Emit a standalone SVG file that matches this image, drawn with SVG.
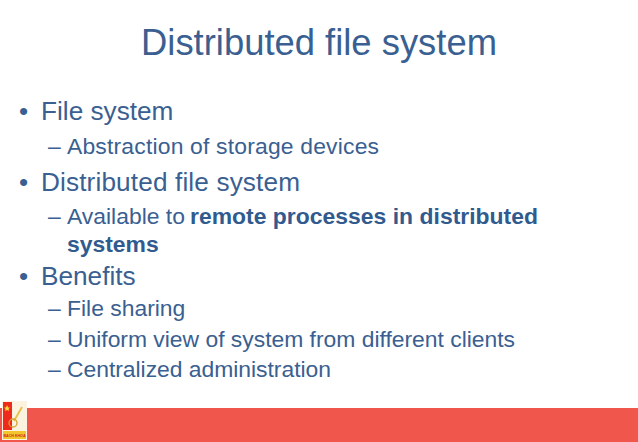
<svg xmlns="http://www.w3.org/2000/svg" width="638" height="442" viewBox="0 0 638 442">
<style>
text{font-family:"Liberation Sans",Arial,sans-serif;fill:#3a6091}
.t{font-size:36.4px}
.l1{font-size:26.2px}
.l2{font-size:22.9px}
.b{font-weight:bold;fill:#315a8e}
.k{font-weight:bold;font-size:3.6px;fill:#d32a1c}
</style>
<rect width="638" height="442" fill="#fff"/>
<rect x="0" y="408" width="638" height="34" fill="#f0564b"/>
<g id="logo">
<rect x="2" y="401" width="25" height="39" fill="#fbf3df"/>
<rect x="3" y="402" width="9" height="28" fill="#ee2a1c"/>
<polygon points="7,405 8,407.500 10,407.500 8.500,409 9,411 7,410 5,411 5.500,409 4,407.500 6,407.500" fill="#f7e03a"/>
<path d="M22 407L14 421" stroke="#e9c04a" stroke-width="1.800" fill="none"/>
<circle cx="13" cy="423" r="4" fill="none" stroke="#d8a02a" stroke-width="1.300"/>
<rect x="3" y="431" width="23" height="8" fill="#f3c52c"/>
<text class="k" x="14.500" y="436.500" text-anchor="middle">BACH KHOA</text>
</g>
<text class="t" x="319" y="55" text-anchor="middle">Distributed file system</text>
<text class="l1" x="19" y="120">•</text>
<text class="l1" x="41" y="120">File system</text>
<text class="l2" x="48" y="154">–</text>
<text class="l2" x="67" y="154" textLength="312">Abstraction of storage devices</text>
<text class="l1" x="19" y="191">•</text>
<text class="l1" x="41" y="191" textLength="259">Distributed file system</text>
<text class="l2" x="48" y="224">–</text>
<text class="l2" x="67" y="224">Available to</text>
<text class="l2 b" x="190" y="224" textLength="348">remote processes in distributed</text>
<text class="l2 b" x="67" y="252">systems</text>
<text class="l1" x="19" y="285">•</text>
<text class="l1" x="41" y="285">Benefits</text>
<text class="l2" x="48" y="316">–</text>
<text class="l2" x="67" y="316">File sharing</text>
<text class="l2" x="48" y="347">–</text>
<text class="l2" x="67" y="347" textLength="448">Uniform view of system from different clients</text>
<text class="l2" x="48" y="377">–</text>
<text class="l2" x="67" y="377" textLength="264">Centralized administration</text>
</svg>
